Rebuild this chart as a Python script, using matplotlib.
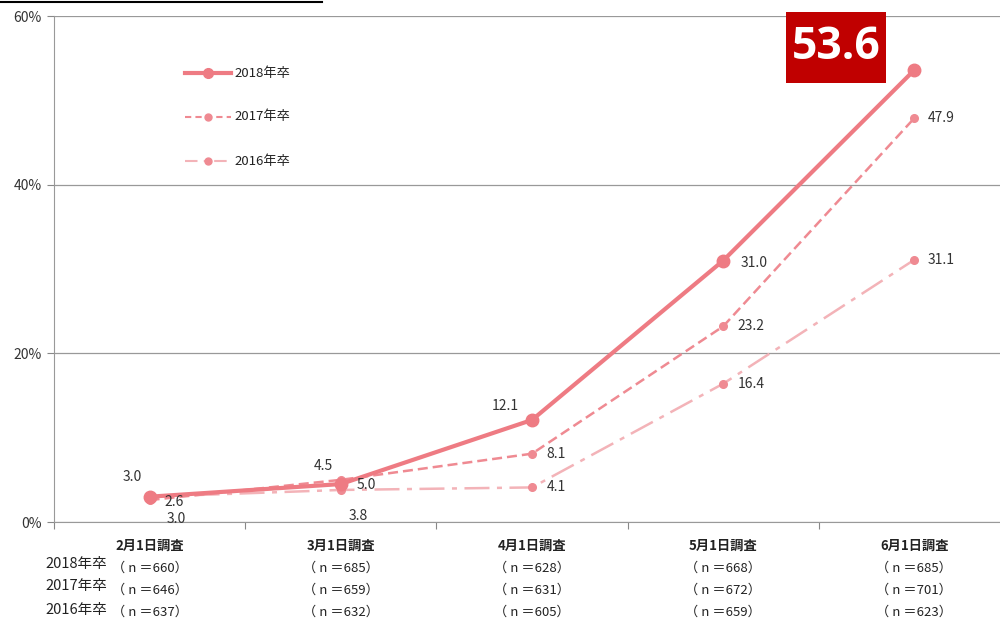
import matplotlib
matplotlib.use("Agg")
import matplotlib.pyplot as plt
import matplotlib.transforms as mtransforms
from matplotlib.lines import Line2D
from matplotlib.patches import Rectangle

plt.rcParams['font.family'] = ['Noto Sans CJK JP', 'DejaVu Sans']

categories = ["2月1日調査", "3月1日調査", "4月1日調査", "5月1日調査", "6月1日調査"]
series_names = ["2018年卒", "2017年卒", "2016年卒"]
v2018 = [3.0, 4.5, 12.1, 31.0, 53.6]
v2017 = [2.6, 5.0, 8.1, 23.2, 47.9]
v2016 = [3.0, 3.8, 4.1, 16.4, 31.1]
n2018 = [660, 685, 628, 668, 685]
n2017 = [646, 659, 631, 672, 701]
n2016 = [637, 632, 605, 659, 623]
yticks = [0, 20, 40, 60]

fig = plt.figure(figsize=(10, 6.21), dpi=100)
ax = fig.add_axes([0.054, 1 - 522/621, 0.956, (522 - 16)/621])

c18 = "#EE7B83"
c17 = "#EF8A92"
c16 = "#F3B3B8"
x = list(range(len(categories)))

ax.plot(x, v2018, color=c18, lw=3, marker='o', ms=9, zorder=5)
ax.plot(x, v2017, color=c17, lw=1.8, ls=(0, (4, 2)), marker='o', ms=5.5, zorder=4)
ax.plot(x, v2016, color=c16, lw=1.8, ls=(0, (10, 3, 2, 3)), marker='o', ms=5.5,
        markerfacecolor=c17, markeredgecolor=c17, zorder=3)

ax.set_xlim(-0.5, 4.5)
ax.set_ylim(0, 60)
ax.set_yticks(yticks)
ax.set_yticklabels([f"{t}%" for t in yticks], fontsize=10, color="#333333")
ax.set_xticks([-0.5, 0.5, 1.5, 2.5, 3.5])
ax.set_xticklabels([])
ax.tick_params(axis='x', length=5, direction='out', color="#888888")
ax.tick_params(axis='y', length=5, direction='out', color="#888888", pad=4)
ax.grid(axis='y', color="#999999", lw=0.9)
ax.set_axisbelow(True)
for s in ['top', 'right']:
    ax.spines[s].set_visible(False)
for s in ['left', 'bottom']:
    ax.spines[s].set_color("#999999")

tfs = 10
def lab(vals, offs):
    for i, (dx, dy) in enumerate(offs):
        ax.annotate(f"{vals[i]:.1f}", (x[i], vals[i]), xytext=(dx, dy), textcoords='offset pixels',
                    ha='center', va='center', fontsize=tfs, color="#333333", zorder=8)

lab(v2018, [(-17, 20), (-17, 18), (-27, 14), (31, -2)])
lab(v2017, [(25, -2), (25, -5), (24, 0), (28, 0), (27, 0)])
lab(v2016, [(27, -22), (17, -26), (24, 0), (28, 0), (27, 0)])

# highlight box for last 2018 value (anchored to the data point, offsets in pixels)
anchor = mtransforms.ScaledTranslation(x[4], v2018[4], ax.transData)
ax.add_artist(Rectangle((-128, -13), 100, 71, transform=anchor, fc="#C00000", ec='none',
                        zorder=9, clip_on=False))
ax.annotate(f"{v2018[4]:.1f}", (x[4], v2018[4]), xytext=(-78, 22), textcoords='offset pixels',
            ha='center', va='center', fontsize=32, fontweight='bold', color='white',
            family=['Open Sans', 'DejaVu Sans'], zorder=10)

# category labels and n counts
trans = mtransforms.blended_transform_factory(ax.transData, fig.transFigure)
for i in x:
    ax.text(i, 1 - 546/621, categories[i], transform=trans, ha='center', va='center',
            fontsize=9.5, fontweight='bold', color="#222222")
    for yy, nn in zip([568, 590, 612], [n2018, n2017, n2016]):
        ax.text(i, 1 - yy/621, f"（ n ＝{nn[i]}）", transform=trans, ha='center', va='center',
                fontsize=9.5, color="#222222")
for yy, name in zip([564, 586, 610], series_names):
    fig.text(0.076, 1 - yy/621, name, ha='center', va='center', fontsize=10.5, color="#222222")

# legend drawn manually
legend_specs = [(c18, 3, '-', 7, c18), (c17, 1.5, (0, (3, 2)), 5, c17), (c16, 1.5, (0, (6, 3, 2, 3)), 5, c17)]
for (col, lw, ls, ms, mc), name, yy in zip(legend_specs, series_names, [73, 117, 161]):
    fy = 1 - yy/621
    fig.add_artist(Line2D([0.185, 0.231], [fy, fy], color=col, lw=lw, ls=ls))
    fig.add_artist(Line2D([0.208], [fy], color=mc, marker='o', ms=ms, ls='none'))
    fig.text(0.234, fy, name, ha='left', va='center', fontsize=9.5, color="#222222")

# top-left rule
fig.add_artist(Line2D([0.0, 0.322], [1 - 2/621, 1 - 2/621], color='black', lw=1.5))

fig.savefig("out.png", dpi=100)
